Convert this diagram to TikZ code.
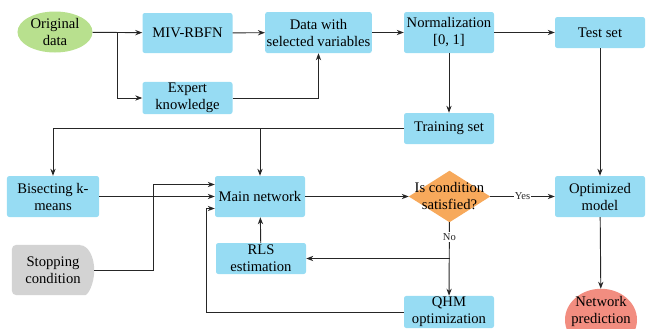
\documentclass[tikz,border=0pt]{standalone}
\usepackage{fontspec}
\setmainfont{Liberation Serif}
\definecolor{skyblue}{HTML}{97DCF3}
\definecolor{leafgreen}{HTML}{B8E08E}
\definecolor{amber}{HTML}{F7A95B}
\definecolor{salmon}{HTML}{F28D80}
\definecolor{ash}{HTML}{D3D3D3}
\usetikzlibrary{calc, positioning, shapes.geometric, arrows.meta, backgrounds}

\begin{document}
\begin{tikzpicture}[x=0.03cm, y=-0.03cm,
  font=\fontsize{12.5}{14.5}\selectfont,
  box/.style={fill=skyblue, rounded corners=2pt, align=center, inner sep=1pt,
    minimum width=2.7cm, minimum height=1.23cm},
  flat/.style={box, minimum height=0.93cm},
  plain/.style={align=center, inner sep=0pt},
  arr/.style={-{Stealth[length=6pt, width=4.5pt]}, line width=0.8pt, black!85},
  lbl/.style={font=\fontsize{9}{10}\selectfont, fill=white, inner sep=1pt}]
  \useasboundingbox (0,0) rectangle (646,328);

  % top row
  \node[ellipse, fill=leafgreen, align=center, inner sep=0pt,
    minimum width=2.25cm, minimum height=1.23cm] (orig) at (55,32) {Original\\data};
  \node[box, minimum height=1.2cm] (miv) at (187.5,33) {MIV-RBFN};
  \node[flat] (expert) at (187.5,98) {Expert\\knowledge};
  \node[box, minimum width=3.2cm] (data) at (318.5,32.5) {Data with\\selected variables};
  \node[box] (norm) at (449,32.5) {Normalization\\{}[0, 1]};
  \node[flat] (test) at (600,32.5) {Test set};
  \node[flat] (train) at (449,128.5) {Training set};

  % middle and bottom rows
  \node[box, minimum width=2.76cm] (bisect) at (53,196.5) {Bisecting k-\\means};
  \node[box] (main) at (260,196.5) {Main network};
  \node[plain, minimum width=2.46cm, minimum height=1.5cm] (stop) at (53,270) {Stopping\\condition};
  \node[flat] (rls) at (261,258.5) {RLS\\estimation};
  \node[plain, minimum width=2.43cm, minimum height=1.53cm] (cond) at (449.5,196.5) {Is condition\\satisfied?};
  \node[box] (optim) at (600,196.5) {Optimized\\model};
  \node[flat, minimum height=0.96cm] (qhm) at (449,312) {QHM\\optimization};
  \node[plain, minimum width=2.16cm, minimum height=1.32cm] (pred) at (601,311) {Network\\prediction};

  % shapes behind the text
  \begin{scope}[on background layer]
    \fill[amber] (cond.north) -- (cond.east) -- (cond.south) -- (cond.west) -- cycle;
    \fill[ash, rounded corners=4pt] ($(stop.north east)+(-14,0)$) -- (stop.north west)
      -- (stop.south west) -- ($(stop.south east)+(-14,0)$) [sharp corners]
      arc[start angle=-90, end angle=90, x radius=0.42cm, y radius=0.75cm] -- cycle;
    \fill[salmon] ($(pred.north)+(0,31)$) ellipse [x radius=1.08cm, y radius=0.93cm];
  \end{scope}

  % connectors
  \draw[arr] (orig) -- (miv);
  \draw[arr] (orig.east) -- ++(25,0) |- (expert.west);
  \draw[arr] (miv) -- (data);
  \draw[arr] (expert.east) -| (data.south);
  \draw[arr] (data) -- (norm);
  \draw[arr] (norm) -- (test);
  \draw[arr] (norm) -- (train);
  \draw[arr] (train.west) -| (bisect.north);
  \draw[arr] (train.west -| main.north) -- (main.north);
  \draw[arr] (test) -- (optim);
  \draw[arr] (bisect) -- (main);
  \draw[arr] (stop.east) -| ($(main.west)+(-61,-12)$) -- ($(main.west)+(0,-12)$);
  \draw[arr] (qhm.west) -| ($(main.west)+(-8,12)$) -- ($(main.west)+(0,12)$);
  \draw[arr] (main) -- (cond);
  \draw[arr] (cond) -- node[lbl] {Yes} (optim);
  \draw[arr] (cond) -- node[lbl, pos=0.2] {No} (qhm);
  \draw[arr] (cond.south |- rls.east) -- (rls.east);
  \draw[arr] (rls) -- (main);
  \draw[arr] (optim) -- (pred);
\end{tikzpicture}
\end{document}
